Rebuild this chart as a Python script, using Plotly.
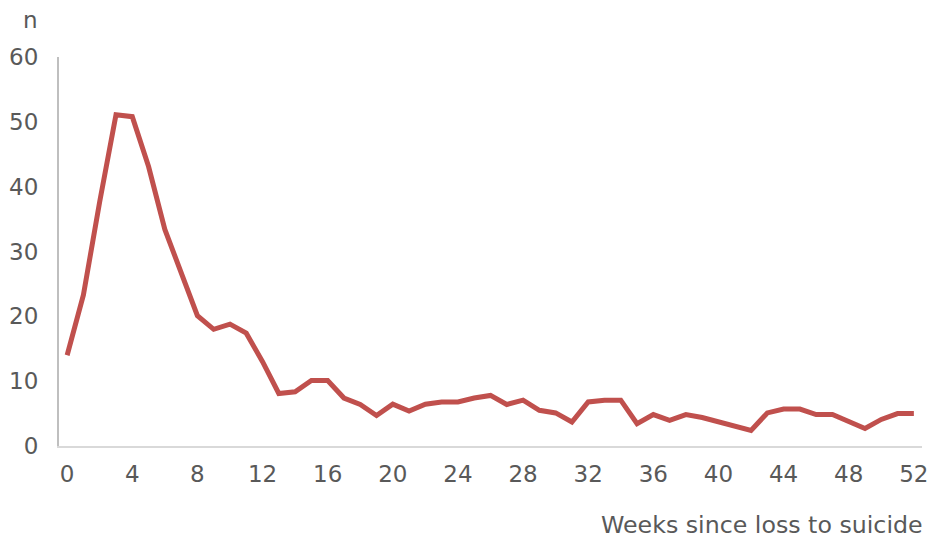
import plotly.graph_objects as go

# Weekly counts since loss to suicide
weeks = list(range(0, 53))
counts = [
    14.0, 23.3, 37.7, 51.1, 50.8, 43.1, 33.4, 26.7, 20.1, 18.0,
    18.8, 17.4, 13.0, 8.1, 8.35, 10.1, 10.1, 7.4, 6.4, 4.7,
    6.45, 5.4, 6.45, 6.8, 6.8, 7.4, 7.8, 6.4, 7.07, 5.5,
    5.1, 3.7, 6.8, 7.07, 7.07, 3.45, 4.85, 3.97, 4.85, 4.4,
    3.7, 3.1, 2.4, 5.1, 5.7, 5.7, 4.85, 4.85, 3.7, 2.7,
    4.1, 5.0, 5.0,
]
x_ticks = list(range(0, 53, 4))
y_ticks = [0, 10, 20, 30, 40, 50, 60]

FONT = "DejaVu Sans, Arial, sans-serif"
TEXT = "#595959"
SIZE = 23

fig = go.Figure(
    go.Scatter(
        x=weeks,
        y=counts,
        mode="lines",
        line=dict(color="#C0504D", width=5),
        hoverinfo="x+y",
    )
)

fig.update_layout(
    width=932,
    height=542,
    margin=dict(l=59, r=10, t=57, b=96),
    paper_bgcolor="white",
    plot_bgcolor="white",
    showlegend=False,
    font=dict(family=FONT, size=SIZE, color=TEXT),
    xaxis=dict(
        range=[-0.5, 52.5],
        tickvals=x_ticks,
        ticktext=[str(v) for v in x_ticks],
        showgrid=False,
        zeroline=False,
        showline=True,
        linecolor="#d9d9d9",
        linewidth=2,
        ticks="",
        ticklabelstandoff=6,
        automargin=False,
    ),
    yaxis=dict(
        range=[0, 60],
        tickvals=y_ticks,
        ticktext=[str(v) for v in y_ticks],
        showgrid=False,
        zeroline=False,
        showline=True,
        linecolor="#bfbfbf",
        linewidth=2,
        ticks="",
        ticklabelstandoff=14,
        automargin=False,
    ),
    annotations=[
        dict(
            text="Weeks since loss to suicide",
            xref="paper", yref="paper", x=1, y=0,
            xanchor="right", yanchor="middle",
            xshift=3, yshift=-79,
            showarrow=False,
            font=dict(family=FONT, size=23.7, color=TEXT),
        ),
        dict(
            text="n",
            xref="paper", yref="paper", x=0, y=1,
            xanchor="center", yanchor="middle",
            xshift=-29, yshift=37,
            showarrow=False,
            font=dict(family=FONT, size=SIZE, color=TEXT),
        ),
    ],
)

fig.write_html("out.html")
